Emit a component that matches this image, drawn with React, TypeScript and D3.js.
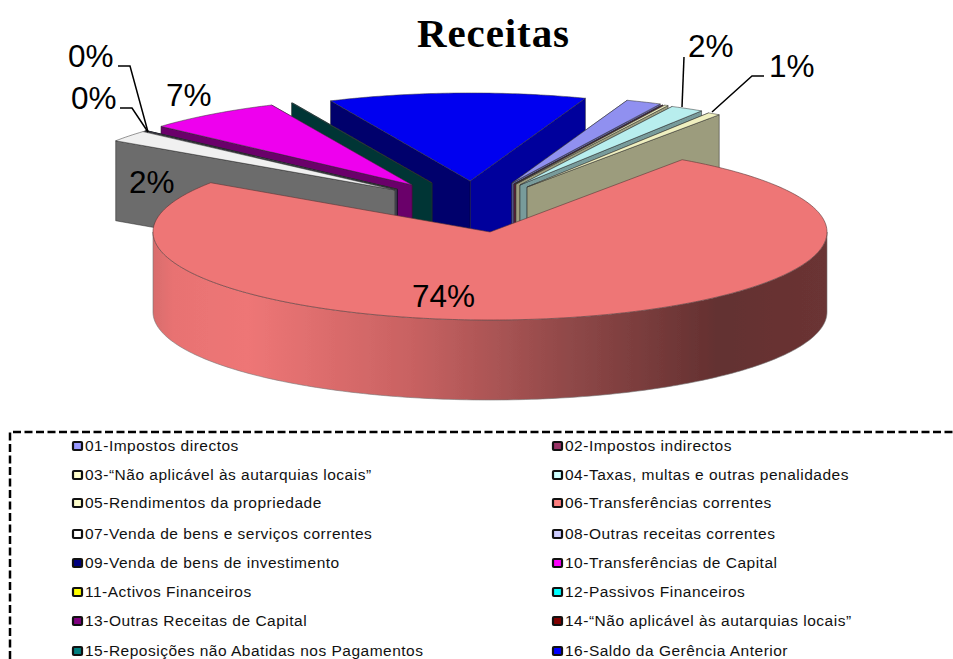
import React from "react";
import * as d3 from "d3";

const codes = ["01","02","03","04","05","06","07","08","09","10","11","12","13","14","15","16"];
const names = [
  "01-Impostos directos","02-Impostos indirectos",
  "03-“Não aplicável às autarquias locais”","04-Taxas, multas e outras penalidades",
  "05-Rendimentos da propriedade","06-Transferências correntes",
  "07-Venda de bens e serviços correntes","08-Outras receitas correntes",
  "09-Venda de bens de investimento","10-Transferências de Capital",
  "11-Activos Financeiros","12-Passivos Financeiros",
  "13-Outras Receitas de Capital","14-“Não aplicável às autarquias locais”",
  "15-Reposições não Abatidas nos Pagamentos","16-Saldo da Gerência Anterior",
];
const values = [1.7,0.03,0.17,1.6,0.6,74.8,2.1,0.03,0.03,6.54,0,0,0,0,0.05,12.35];
const legendColors = ["#9999ff","#993366","#ffffcc","#ccffff","#ffffcc","#ff8080","#ffffff","#ccccff","#000080","#ff00ff","#ffff00","#00ffff","#800080","#800000","#008080","#0000ff"];
const topColors = ["#9090f0","#903060","#f0f0c0","#b8eeee","#f0f0c0","#ee7676","#f0f0f0","#c0c0f0","#000078","#ee00ee","#f0f000","#00f0f0","#780078","#780000","#007878","#0000f0"];
// explosion of every slice, in units of the pie radius
const offsetX = [.065,.071,.077,.089,.11,0,-.282,-.277,-.275,-.231,0,0,0,0,-.172,-.059];
const offsetY = [-.557,-.545,-.545,-.534,-.511,0,-.477,-.483,-.486,-.534,0,0,0,0,-.557,-.58];
const drawOrder = [15,14,9,8,7,6,0,1,2,3,4];
const gradientStops = [[0,"#d86c6c"],[.03,"#e87272"],[.14,"#ee7676"],[.38,"#c96262"],[.62,"#8f4848"],[.84,"#633030"],[1,"#6b3434"]];

const labelTexts = ["0%","0%","7%","2%","2%","1%","74%"];
const labelX = [68,71,166,129,688,769,412];
const labelY = [67,109,106,193,57,77,307];
const leaderPts = [
  [[118,66],[130,66],[148,132]],
  [[120,108],[132,108],[148,132]],
  [[684,57],[682,107]],
  [[764,76],[752,76],[712,112]],
];
const rowY = [446,475,503,534,563,592,621,651];
const colSwatch = [72,552];

const sx = d3.scaleLinear().domain([-1,1]).range([153,827]);
const sy = d3.scaleLinear().domain([-1,1]).range([144,320]);
const depth = 80;
const rad = Math.PI/180;
const pie = d3.pie<number>().sort(null).startAngle(20*rad).endAngle(380*rad);
const arcs = pie(values);
const lineGen = d3.line<[number,number]>();

function arcPts(a0:number,a1:number,ox:number,oy:number):[number,number][]{
  const n = Math.max(2,Math.ceil((a1-a0)/(1*rad)));
  return d3.range(n+1).map(i=>{
    const a = a0+(a1-a0)*i/n-Math.PI/2;
    return [sx(ox+Math.cos(a)),sy(oy+Math.sin(a))] as [number,number];
  });
}
function shade(c:string,k:number){const r=d3.rgb(c);return d3.rgb(r.r*k,r.g*k,r.b*k).formatHex();}

function Slice({i}:{i:number}){
  const d = arcs[i];
  const ox=offsetX[i], oy=offsetY[i];
  const apex:[number,number]=[sx(ox),sy(oy)];
  const pts = arcPts(d.startAngle,d.endAngle,ox,oy);
  const wall=(c:[number,number])=>lineGen([apex,c,[c[0],c[1]+depth],[apex[0],apex[1]+depth]])+"Z";
  const startWall=<path d={wall(pts[0])} fill={shade(topColors[i],.45)} stroke="#222" strokeWidth={.5}/>;
  const endWall=<path d={wall(pts[pts.length-1])} fill={shade(topColors[i],.65)} stroke="#222" strokeWidth={.5}/>;
  const left = (d.startAngle+d.endAngle)/2>Math.PI;
  return <g>
    {left?endWall:startWall}
    {left?startWall:endWall}
    <path d={lineGen([apex,...pts])+"Z"} fill={topColors[i]} stroke="#333" strokeWidth={.5} strokeLinejoin="round"/>
  </g>;
}

function MainSlice(){
  const i=5; const d=arcs[i];
  const apex:[number,number]=[sx(0),sy(0)];
  const pts=arcPts(d.startAngle,d.endAngle,0,0);
  const front=arcPts(Math.PI/2,Math.PI*3/2,0,0);
  const lower=front.map(p=>[p[0],p[1]+depth] as [number,number]).reverse();
  return <g>
    <path d={lineGen([...front,...lower])+"Z"} fill="url(#mainWall)" stroke="#777" strokeWidth={.6}/>
    <path d={lineGen([apex,...pts])+"Z"} fill={topColors[i]} stroke="#5a3535" strokeWidth={.6}/>
  </g>;
}

export default function App(){
  return (
    <svg width={953} height={659} style={{position:"absolute",left:0,top:0,display:"block"}}>
      <defs>
        <linearGradient id="mainWall" gradientUnits="userSpaceOnUse" x1={153} x2={827} y1={0} y2={0}>
          {gradientStops.map(([o,c],k)=><stop key={k} offset={o as number} stopColor={c as string}/>)}
        </linearGradient>
        <filter id="soft" x="-5%" y="-5%" width="110%" height="110%"><feGaussianBlur stdDeviation=".45"/></filter>
      </defs>
      <rect width={953} height={659} fill="#fff"/>
      <g filter="url(#soft)">
        {drawOrder.map(i=><Slice key={codes[i]} i={i}/>)}
        <MainSlice/>
      </g>
      <text x={417} y={47} fontFamily="Liberation Serif" fontWeight="bold" fontSize={41} letterSpacing={.9} fill="#000">Receitas</text>
      {leaderPts.map((p,k)=><path key={k} d={lineGen(p as [number,number][])!} fill="none" stroke="#000" strokeWidth={1.5}/>)}
      {labelTexts.map((t,k)=><text key={k} x={labelX[k]} y={labelY[k]} fontFamily="Liberation Sans" fontSize={31.5} fill="#000">{t}</text>)}
      <path d="M10,659V432H953" fill="none" stroke="#000" strokeWidth={2.5} strokeDasharray="8,3.5"/>
      {names.map((n,k)=>{
        const col=k%2, row=Math.floor(k/2);
        return <g key={codes[k]}>
          <rect x={colSwatch[col]+1} y={rowY[row]-4} width={9} height={8} rx={1} fill={legendColors[k]} stroke="#111" strokeWidth={2.2}/>
          <text x={colSwatch[col]+13} y={rowY[row]+5} fontFamily="Liberation Sans" fontSize={15.5} letterSpacing={.5} fill="#111">{n}</text>
        </g>;
      })}
    </svg>
  );
}
